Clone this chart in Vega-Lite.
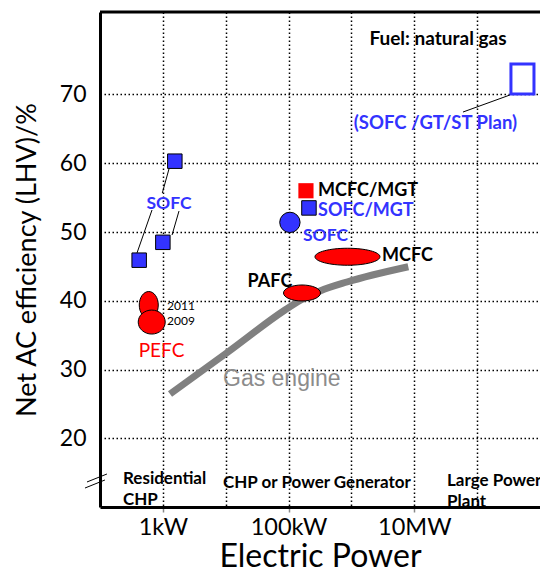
{
  "$schema": "https://vega.github.io/schema/vega-lite/v6.json",
  "width": 440,
  "height": 495,
  "autosize": {"type": "none"},
  "padding": {"left": 100, "top": 12, "right": 0, "bottom": 62},
  "background": "white",
  "config": {
    "view": {"stroke": null},
    "axis": {"labelFont": "Lato", "titleFont": "Lato", "labelColor": "black", "titleColor": "black", "titleFontWeight": "normal"}
  },
  "datasets": {
    "gas": [
      {"power": 1.30, "eff": 26.44},
      {"power": 10.87, "eff": 32.55},
      {"power": 87.7, "eff": 38.65},
      {"power": 152, "eff": 40.04},
      {"power": 316, "eff": 41.42},
      {"power": 850, "eff": 42.73},
      {"power": 8030, "eff": 44.95}
    ],
    "connectors": [
      {"power": 0.388, "eff": 46.95, "power2": 0.672, "eff2": 53.2},
      {"power": 1.40, "eff": 49.56, "power2": 1.806, "eff2": 53.05},
      {"power": 1.33, "eff": 60.04, "power2": 0.98, "eff2": 55.67},
      {"power": 333000, "eff": 69.93, "power2": 59500, "eff2": 67.45},
      {"power": 0.0621, "eff": 13.64, "power2": 0.129, "eff2": 14.8},
      {"power": 0.0577, "eff": 12.76, "power2": 0.120, "eff2": 13.93}
    ],
    "ellipses": [
      {"name": "PEFC 2011", "power": 0.597, "eff": 39.38},
      {"name": "PEFC 2009", "power": 0.665, "eff": 36.9},
      {"name": "PAFC", "power": 163.5, "eff": 41.13},
      {"name": "MCFC", "power": 865, "eff": 46.4}
    ],
    "squares": [
      {"name": "SOFC residential", "power": 0.42, "eff": 45.9},
      {"name": "SOFC residential", "power": 1.0, "eff": 48.5},
      {"name": "SOFC residential", "power": 1.55, "eff": 60.3},
      {"name": "SOFC/MGT", "power": 211, "eff": 53.5}
    ],
    "redsquare": [
      {"name": "MCFC/MGT", "power": 189, "eff": 56.0}
    ],
    "circle": [
      {"name": "SOFC", "power": 105, "eff": 51.4}
    ],
    "plan": [
      {"name": "SOFC/GT/ST Plan", "power": 345000, "power2": 802000, "eff": 70.07, "eff2": 74.44}
    ],
    "labels": [
      {"text": "Fuel: natural gas", "kind": "note", "power": 23800, "eff": 78.07},
      {"text": "(SOFC /GT/ST Plan)", "kind": "plan", "power": 21700, "eff": 65.85},
      {"text": "SOFC", "kind": "SOFC", "power": 387, "eff": 49.42},
      {"text": "SOFC", "kind": "SOFC", "power": 1.252, "eff": 54.07},
      {"text": "SOFC/MGT", "kind": "SOFC hybrid", "power": 294, "eff": 53.1},
      {"text": "MCFC/MGT", "kind": "MCFC", "power": 294, "eff": 56.0},
      {"text": "MCFC", "kind": "MCFC", "power": 3063, "eff": 46.5},
      {"text": "PAFC", "kind": "PAFC", "power": 50.6, "eff": 42.73},
      {"text": "PEFC", "kind": "PEFC", "power": 0.951, "eff": 32.69},
      {"text": "2011", "kind": "year", "power": 1.164, "eff": 39.24},
      {"text": "2009", "kind": "year", "power": 1.164, "eff": 37.05},
      {"text": "Gas engine", "kind": "engine", "power": 9.05, "eff": 28.62},
      {"text": "Residential", "kind": "category", "power": 0.232, "eff": 14.07},
      {"text": "CHP", "kind": "category", "power": 0.232, "eff": 11.02},
      {"text": "CHP or Power Generator", "kind": "category", "power": 9.05, "eff": 13.49},
      {"text": "Large Power", "kind": "category", "power": 33200, "eff": 13.78},
      {"text": "Plant", "kind": "category", "power": 33200, "eff": 10.73}
    ]
  },
  "encoding": {
    "x": {
      "field": "power", "type": "quantitative",
      "scale": {"type": "log", "domain": [0.1, 1000000], "nice": false},
      "axis": {
        "title": "Electric Power",
        "titleFontSize": 32,
        "titlePadding": 3,
        "values": [1, 10, 100, 1000, 10000, 100000],
        "labelExpr": "datum.value == 1 ? '1kW' : datum.value == 100 ? '100kW' : datum.value == 10000 ? '10MW' : ''",
        "labelFontSize": 23.5,
        "labelPadding": 3,
        "labelOverlap": false,
        "labelFlush": false,
        "tickSize": 5,
        "tickColor": "#888",
        "tickWidth": 1.5,
        "tickOpacity": {"condition": {"test": "datum.value == 1 || datum.value == 100 || datum.value == 10000", "value": 1}, "value": 0},
        "domainColor": "black",
        "domainWidth": 3,
        "grid": true,
        "gridColor": "black",
        "gridDash": [1.5, 2.5],
        "gridWidth": 1.5,
        "gridOpacity": 1
      }
    },
    "y": {
      "field": "eff", "type": "quantitative",
      "scale": {"domain": [10, 82], "nice": false, "zero": false},
      "axis": {
        "title": "Net AC efficiency (LHV)/%",
        "titleFontSize": 27,
        "titlePadding": 18,
        "values": [20, 30, 40, 50, 60, 70],
        "labelFontSize": 23,
        "labelPadding": 14,
        "ticks": false,
        "domainColor": "black",
        "domainWidth": 3,
        "grid": true,
        "gridColor": "black",
        "gridDash": [1.5, 2.5],
        "gridWidth": 1.5,
        "gridOpacity": 1
      }
    }
  },
  "layer": [
    {
      "data": {"values": [{"eff": 82}]},
      "mark": {"type": "rule", "color": "black", "strokeWidth": 3},
      "encoding": {"x": null, "y": {"field": "eff", "type": "quantitative"}}
    },
    {
      "data": {"name": "gas"},
      "mark": {"type": "line", "color": "#808080", "strokeWidth": 7, "interpolate": "monotone"},
      "encoding": {}
    },
    {
      "data": {"name": "connectors"},
      "mark": {"type": "rule", "color": "black", "strokeWidth": 1},
      "encoding": {
        "x2": {"field": "power2"},
        "y2": {"field": "eff2"}
      }
    },
    {
      "data": {"name": "ellipses"},
      "mark": {"type": "point", "filled": true, "fill": "#FF0000", "stroke": "black", "strokeWidth": 1, "size": 4, "opacity": 1},
      "encoding": {
        "shape": {
          "field": "name", "type": "nominal", "legend": null,
          "scale": {
            "domain": ["PEFC 2011", "PEFC 2009", "PAFC", "MCFC"],
            "range": [
              "M-9.5,0 A9.5,13.5 0 1,0 9.5,0 A9.5,13.5 0 1,0 -9.5,0 Z",
              "M-13.5,0 A13.5,12 0 1,0 13.5,0 A13.5,12 0 1,0 -13.5,0 Z",
              "M-18.5,0 A18.5,8 0 1,0 18.5,0 A18.5,8 0 1,0 -18.5,0 Z",
              "M-32.5,0 A32.5,8.5 0 1,0 32.5,0 A32.5,8.5 0 1,0 -32.5,0 Z"
            ]
          }
        }
      }
    },
    {
      "data": {"name": "squares"},
      "mark": {"type": "point", "shape": "square", "filled": true, "fill": "#3333FF", "stroke": "black", "strokeWidth": 1, "size": 210, "opacity": 1}
    },
    {
      "data": {"name": "redsquare"},
      "mark": {"type": "point", "shape": "square", "filled": true, "fill": "#FF0000", "size": 230, "opacity": 1}
    },
    {
      "data": {"name": "circle"},
      "mark": {"type": "point", "shape": "circle", "filled": true, "fill": "#3333FF", "stroke": "black", "strokeWidth": 1, "size": 415, "opacity": 1}
    },
    {
      "data": {"name": "plan"},
      "mark": {"type": "rect", "fill": null, "fillOpacity": 0, "stroke": "#3333FF", "strokeWidth": 3},
      "encoding": {
        "x2": {"field": "power2"},
        "y2": {"field": "eff2"}
      }
    },
    {
      "data": {"name": "labels"},
      "transform": [{"filter": "datum.kind == 'note'"}],
      "mark": {"type": "text", "font": "Lato", "fontWeight": "bold", "fontSize": 19, "color": "black", "align": "center", "baseline": "middle"},
      "encoding": {"text": {"field": "text"}}
    },
    {
      "data": {"name": "labels"},
      "transform": [{"filter": "datum.kind == 'PAFC'"}],
      "mark": {"type": "text", "font": "Lato", "fontWeight": "bold", "fontSize": 18, "color": "black", "align": "center", "baseline": "middle"},
      "encoding": {"text": {"field": "text"}}
    },
    {
      "data": {"name": "labels"},
      "transform": [{"filter": "datum.kind == 'plan'"}],
      "mark": {"type": "text", "font": "Lato", "fontWeight": "bold", "fontSize": 18.5, "color": "#3333FF", "align": "center", "baseline": "middle"},
      "encoding": {"text": {"field": "text"}}
    },
    {
      "data": {"name": "labels"},
      "transform": [{"filter": "datum.kind == 'SOFC'"}],
      "mark": {"type": "text", "font": "Lato", "fontWeight": "bold", "fontSize": 17.5, "color": "#3333FF", "align": "center", "baseline": "middle"},
      "encoding": {"text": {"field": "text"}}
    },
    {
      "data": {"name": "labels"},
      "transform": [{"filter": "datum.kind == 'SOFC hybrid'"}],
      "mark": {"type": "text", "font": "Lato", "fontWeight": "bold", "fontSize": 18, "color": "#3333FF", "align": "left", "baseline": "middle"},
      "encoding": {"text": {"field": "text"}}
    },
    {
      "data": {"name": "labels"},
      "transform": [{"filter": "datum.kind == 'MCFC'"}],
      "mark": {"type": "text", "font": "Lato", "fontWeight": "bold", "fontSize": 18, "color": "black", "align": "left", "baseline": "middle"},
      "encoding": {"text": {"field": "text"}}
    },
    {
      "data": {"name": "labels"},
      "transform": [{"filter": "datum.kind == 'PEFC'"}],
      "mark": {"type": "text", "font": "Lato", "fontSize": 19, "color": "#FF0000", "align": "center", "baseline": "middle"},
      "encoding": {"text": {"field": "text"}}
    },
    {
      "data": {"name": "labels"},
      "transform": [{"filter": "datum.kind == 'year'"}],
      "mark": {"type": "text", "font": "Lato", "fontSize": 12, "color": "black", "align": "left", "baseline": "middle"},
      "encoding": {"text": {"field": "text"}}
    },
    {
      "data": {"name": "labels"},
      "transform": [{"filter": "datum.kind == 'engine'"}],
      "mark": {"type": "text", "font": "Liberation Sans", "fontSize": 23, "color": "#8c8c8c", "align": "left", "baseline": "middle"},
      "encoding": {"text": {"field": "text"}}
    },
    {
      "data": {"name": "labels"},
      "transform": [{"filter": "datum.kind == 'category'"}],
      "mark": {"type": "text", "font": "Lato", "fontWeight": "bold", "fontSize": 17, "color": "black", "align": "left", "baseline": "middle"},
      "encoding": {"text": {"field": "text"}}
    }
  ]
}
